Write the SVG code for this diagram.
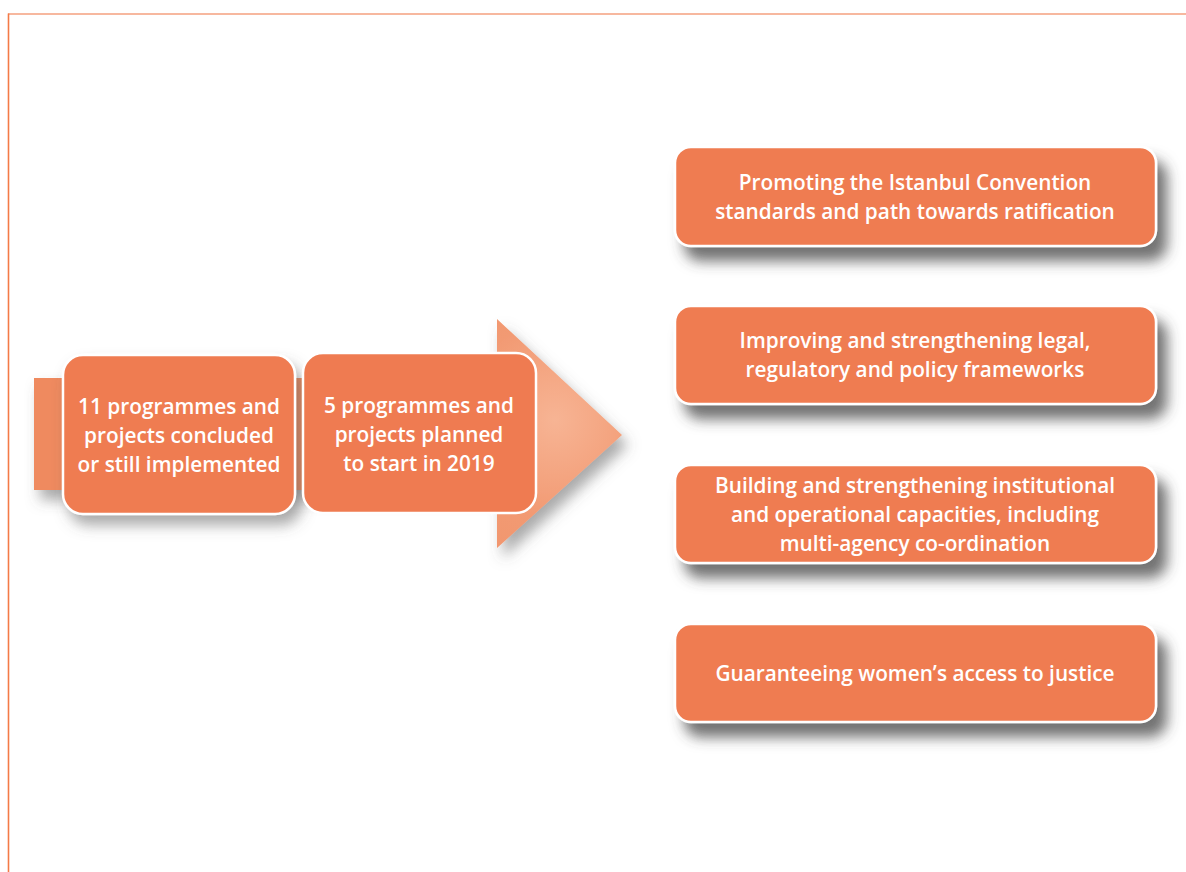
<svg xmlns="http://www.w3.org/2000/svg" width="1186" height="872" viewBox="0 0 1186 872">
<style>
.box{fill:#ef7b51;stroke:#ffffff;stroke-width:2.5}
.t{font-family:"Open Sans","Liberation Sans",sans-serif;font-weight:600;font-size:20.8px;fill:#ffffff;text-anchor:middle}
</style>
<defs>
<filter id="sh" x="-10%" y="-20%" width="130%" height="180%">
<feDropShadow dx="10" dy="14" stdDeviation="7" flood-color="#444" flood-opacity="0.75"/>
</filter>
<filter id="sh2" x="-10%" y="-20%" width="130%" height="170%">
<feDropShadow dx="6" dy="10" stdDeviation="7" flood-color="#555" flood-opacity="0.5"/>
</filter>
<radialGradient id="ag" cx="555" cy="420" r="320" gradientUnits="userSpaceOnUse">
<stop offset="0" stop-color="#f7b494"/>
<stop offset="0.3" stop-color="#f29a73"/>
<stop offset="1" stop-color="#ef8a5e"/>
</radialGradient>
</defs>
<rect x="0" y="0" width="1186" height="872" fill="#ffffff"/>
<g id="frame">
<line x1="8" y1="14" x2="1186" y2="14" stroke="#f4a07f" stroke-width="1.6"/>
<line x1="8.5" y1="13.5" x2="8.5" y2="872" stroke="#f47a47" stroke-width="1.6"/>
</g>
<g id="connectors">
<path d="M34 378 H497 V319 L622 435 L497 548 V490 H34 Z" fill="url(#ag)" filter="url(#sh2)"/>
</g>
<g id="n1">
<rect class="box" x="63" y="355" width="232" height="159" rx="20" filter="url(#sh2)"/>
<text class="t"><tspan x="179" y="414">11 programmes and</tspan><tspan x="179" y="443">projects concluded</tspan><tspan x="179" y="472">or still implemented</tspan></text>
</g>
<g id="n2">
<rect class="box" x="303" y="353" width="233" height="160" rx="20"/>
<text class="t"><tspan x="419" y="413">5 programmes and</tspan><tspan x="419" y="442">projects planned</tspan><tspan x="419" y="471">to start in 2019</tspan></text>
</g>
<g id="a1">
<rect class="box" x="675" y="147" width="481" height="99" rx="16" filter="url(#sh)"/>
<text class="t"><tspan x="915" y="190">Promoting the Istanbul Convention</tspan><tspan x="915" y="219">standards and path towards ratification</tspan></text>
</g>
<g id="a2">
<rect class="box" x="675" y="306" width="481" height="98" rx="16" filter="url(#sh)"/>
<text class="t"><tspan x="915" y="348">Improving and strengthening legal,</tspan><tspan x="915" y="377">regulatory and policy frameworks</tspan></text>
</g>
<g id="a3">
<rect class="box" x="675" y="465" width="481" height="98" rx="16" filter="url(#sh)"/>
<text class="t"><tspan x="915" y="493">Building and strengthening institutional</tspan><tspan x="915" y="522">and operational capacities, including</tspan><tspan x="915" y="551">multi-agency co-ordination</tspan></text>
</g>
<g id="a4">
<rect class="box" x="675" y="624" width="481" height="98" rx="16" filter="url(#sh)"/>
<text class="t"><tspan x="915" y="681">Guaranteeing women’s access to justice</tspan></text>
</g>
</svg>
